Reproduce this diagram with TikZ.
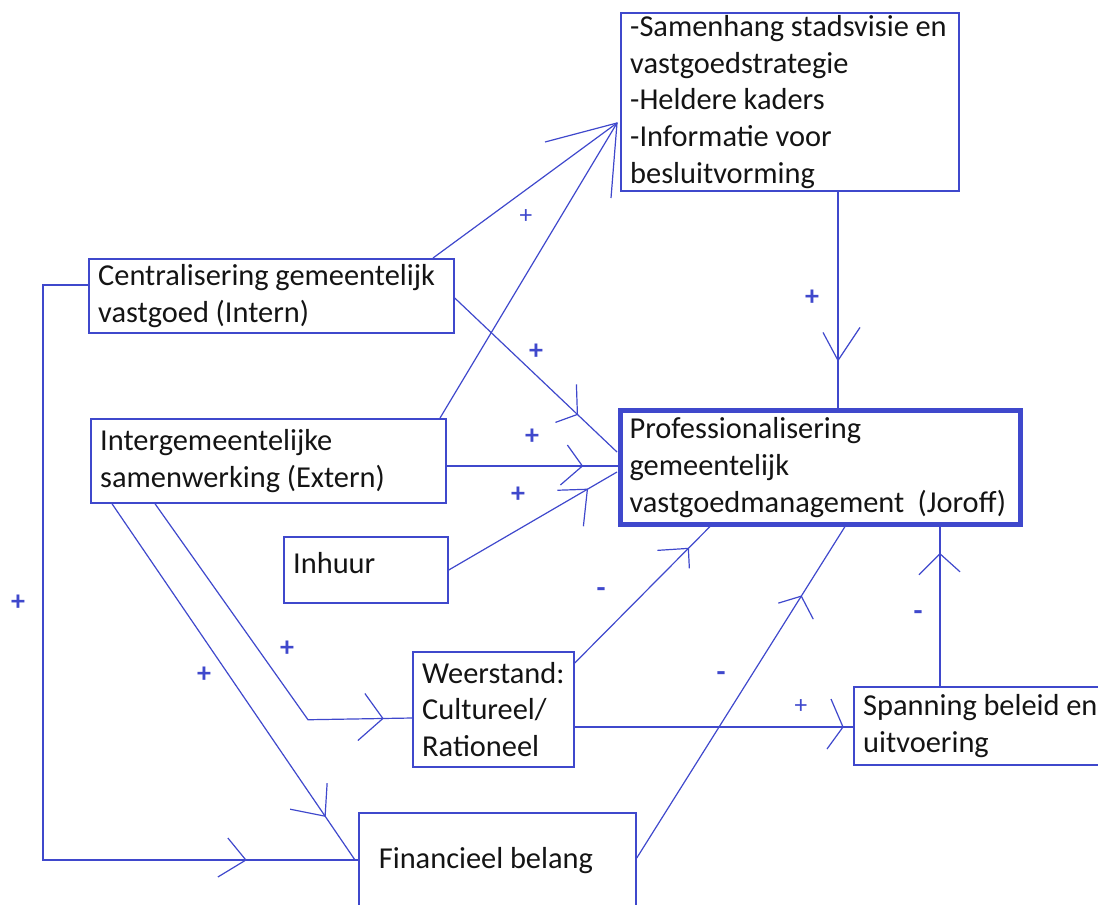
\documentclass[tikz,border=0pt]{standalone}
\usepackage{fontspec}
\setmainfont{Carlito}
\usetikzlibrary{calc}
\definecolor{bl}{RGB}{63,72,204}
\definecolor{txt}{RGB}{20,20,20}
\newcommand\tline[1]{\mbox{\spaceskip=0.22em\relax #1}}
\begin{document}
\begin{tikzpicture}[x=0.75pt,y=-0.75pt,
  box/.style={draw=bl, line width=1.3pt, anchor=north west, align=left,
    inner xsep=7pt, inner ysep=0pt, text=txt,
    font=\fontsize{22.8}{27.6}\selectfont},
  conn/.style={draw=bl, line width=0.9pt},
  barb/.style={draw=bl, line width=0.9pt},
  plusb/.style={text=bl, inner sep=0pt, font=\fontsize{21}{21}\selectfont\bfseries},
  plust/.style={text=bl, inner sep=0pt, font=\fontsize{19}{19}\selectfont},
  minusb/.style={text=bl, inner sep=0pt, font=\fontsize{22}{22}\selectfont\bfseries}
]
\useasboundingbox (0,0) rectangle (1098,904);

% boxes
\node[box, minimum width=253.5pt, minimum height=133.5pt, text width=239.5pt] (top) at (620,12)
  {\tline{-Samenhang stadsvisie en}\\\tline{vastgoedstrategie}\\\tline{-Heldere kaders}\\\tline{-Informatie voor}\\\tline{besluitvorming}};
\node[box, minimum width=273.75pt, minimum height=55.5pt, text width=259.75pt] (cent) at (88,258)
  {\tline{Centralisering gemeentelijk}\\\tline{vastgoed (Intern)}};
\node[box, minimum width=266.25pt, minimum height=63pt, text width=252.25pt] (inter) at (90,418)
  {\tline{Intergemeentelijke}\\\tline{samenwerking (Extern)}};
\node[box, minimum width=123pt, minimum height=49.5pt, text width=109pt, text depth=10pt] (inhuur) at (283,536)
  {\tline{Inhuur}};
\node[box, line width=3.4pt, minimum width=300pt, minimum height=85.5pt, text width=286pt] (prof) at (618,408)
  {\tline{Professionalisering}\\\tline{gemeentelijk}\\\tline{vastgoedmanagement\ \ (Joroff)}};
\node[box, minimum width=120.75pt, minimum height=86.25pt, text width=106.75pt] (weer) at (412,651)
  {\tline{Weerstand:}\\\tline{Cultureel/}\\\tline{Rationeel}};
\node[box, minimum width=225pt, minimum height=58.5pt, text width=211pt] (span) at (853,686)
  {\tline{Spanning beleid en}\\\tline{uitvoering}};
\node[box, inner xsep=15pt, minimum width=207.75pt, minimum height=72pt, text width=177.75pt] (fin) at (358,812)
  {\tline{Financieel belang}};

% connectors to the top box (shared arrowhead)
\coordinate (tA) at ($(top.north west)+(-3,111)$);
\draw[conn] ($(cent.north west)+(345,0)$) -- (tA);
\draw[conn] ($(inter.north west)+(350,0)$) -- (tA);
\draw[barb] ($(tA)+(-72,19)$) -- (tA) -- ($(tA)+(-6,75)$);

% centralisering -> prof
\draw[conn] ($(cent.north east)+(0,40)$) -- coordinate[pos=0.756] (k3) ($(prof.north west)+(-1,44)$);
\draw[barb] ($(k3)+(-1,-30)$) -- (k3) -- ($(k3)+(-22,8)$);

% intergemeentelijk -> prof
\draw[conn] ($(inter.north east)+(0,48)$) -- coordinate[pos=0.792] (k4) ($(prof.north west)+(0,58)$);
\draw[barb] ($(k4)+(-15,-21)$) -- (k4) -- ($(k4)+(-22,19)$);

% inhuur -> prof
\draw[conn] ($(inhuur.north east)+(0,34)$) -- coordinate[pos=0.824] (k5) ($(prof.north west)+(-1,64)$);
\draw[barb] ($(k5)+(-30,1)$) -- (k5) -- ($(k5)+(-4,37)$);

% weerstand -> prof
\draw[conn] ($(weer.north east)+(0,12)$) -- coordinate[pos=0.84] (k6) ($(prof.south west)+(92,0)$);
\draw[barb] ($(k6)+(-31,2)$) -- (k6) -- ($(k6)+(1,20)$);

% financieel -> prof
\draw[conn] ($(fin.north east)+(0,46)$) -- coordinate[pos=0.79] (k7) ($(prof.south west)+(227,0)$);
\draw[barb] ($(k7)+(-23,7)$) -- (k7) -- ($(k7)+(12,23)$);

% weerstand -> spanning
\draw[conn] ($(weer.north east)+(0,76)$) -- coordinate[pos=0.964] (k8) ($(span.north west)+(0,41)$);
\draw[barb] ($(k8)+(-12,-28)$) -- (k8) -- ($(k8)+(-16,22)$);

% spanning -> prof
\draw[conn] ($(span.north west)+(87,0)$) -- coordinate[pos=0.829] (k9) ($(prof.south west)+(322,0)$);
\draw[barb] ($(k9)+(-21,21)$) -- (k9) -- ($(k9)+(20,18)$);

% top -> prof
\draw[conn] ($(top.south west)+(218,0)$) -- coordinate[pos=0.78] (k10) ($(prof.north west)+(220,0)$);
\draw[barb] ($(k10)+(-15,-28)$) -- (k10) -- ($(k10)+(22,-33)$);

% intergemeentelijk -> weerstand
\draw[conn] ($(inter.south west)+(65,0)$) -- ++(153,216) -- coordinate[pos=0.72] (k11) ($(weer.north west)+(0,67)$);
\draw[barb] ($(k11)+(-18,-25)$) -- (k11) -- ($(k11)+(-25,22)$);

% intergemeentelijk -> financieel
\draw[conn] ($(inter.south west)+(22,0)$) -- coordinate[pos=0.877] (k12) ($(fin.north west)+(-3,48)$);
\draw[barb] ($(k12)+(2,-33)$) -- (k12) -- ($(k12)+(-35,-7)$);

% centralisering -> financieel (loop)
\draw[conn] ($(cent.north west)+(0,27)$) -- ++(-45,0) |- coordinate[pos=0.822] (k13) ($(fin.north west)+(0,48)$);
\draw[barb] ($(k13)+(-18,-22)$) -- (k13) -- ($(k13)+(-28,17)$);

% signs
\node[plust] (p1) at (526,217) {+};
\node[plusb] (p2) at (536,352) {+};
\node[plusb] (p3) at (532,437) {+};
\node[plusb] (p4) at (518,495) {+};
\node[plusb] (p5) at (812,298) {+};
\node[plusb] (p6) at (18,603) {+};
\node[plusb] (p7) at (287,649) {+};
\node[plusb] (p8) at (204,675) {+};
\node[plust] (p9) at (801,707) {+};
\node[minusb] (m1) at (601,593) {-};
\node[minusb] (m2) at (721,677) {-};
\node[minusb] (m3) at (918,616) {-};
\end{tikzpicture}
\end{document}
